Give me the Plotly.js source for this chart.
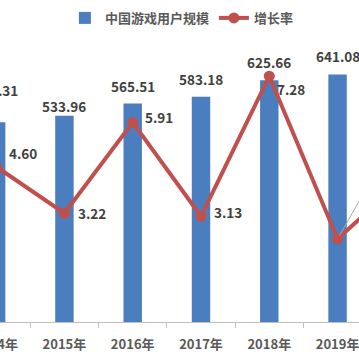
<!DOCTYPE html>
<html><head><meta charset="utf-8">
<script src="https://cdn.plot.ly/plotly-3.0.1.min.js"></script>
<style>
html,body{margin:0;padding:0;background:#fff;width:359px;height:359px;overflow:hidden;position:relative}
#c{position:absolute;left:-38px;top:0;width:478px;height:359px}
</style>
</head><body><div id="c"></div>
<script>
const years = ["2014年","2015年","2016年","2017年","2018年","2019年","2020年"];
const users = [517.31, 533.96, 565.51, 583.18, 625.66, 641.08, 665.07];
const growth = [4.60, 3.22, 5.91, 3.13, 7.28, 2.46, 4.30];
const growthLabels = ["4.60","3.22","5.91","3.13","7.28","2.46","4.30"];
const userLabels = users.map(v => v.toFixed(2));

// label offsets (pixels): styling only
const barLabYShift = [32, 10, 18, 18, 18, 18, 18];
const labXShift = [11, 12, 10, 11, 6, 0, 12];
const labYShift = [14, 0, 5, 4, -13, 0, 0];

const FONT = '"Noto Sans CJK SC", "Noto Sans", sans-serif';
const BLUE = '#4A7EBF';
const RED = '#C0504D';
const LABFONT = {family: FONT, size: 13.5, color: '#404040', weight: 'bold'};

const bar = {
  type: 'bar', name: '中国游戏用户规模', x: years, y: users,
  marker: {color: BLUE}, width: 0.27, hoverinfo: 'skip'
};
const line = {
  type: 'scatter', mode: 'lines+markers', name: '增长率', x: years, y: growth, yaxis: 'y2',
  line: {color: RED, width: 4}, marker: {color: RED, size: 11},
  hoverinfo: 'skip'
};

const barAnnotations = years.map((yr, i) => ({
  x: yr, y: users[i], xref: 'x', yref: 'y', text: userLabels[i],
  showarrow: false, xanchor: 'center', yanchor: 'middle', yshift: barLabYShift[i],
  font: LABFONT
}));

const lineAnnotations = years.map((yr, i) => {
  if (i === 5) {
    return {x: yr, y: growth[i], xref: 'x', yref: 'y2', text: growthLabels[i],
      showarrow: true, arrowhead: 0, arrowwidth: 1, arrowcolor: '#A6A6A6',
      ax: 24, ay: -42, standoff: 4, xanchor: 'left', yanchor: 'middle',
      font: LABFONT};
  }
  return {x: yr, y: growth[i], xref: 'x', yref: 'y2', text: growthLabels[i],
    showarrow: false, xanchor: 'left', yanchor: 'middle',
    xshift: labXShift[i], yshift: labYShift[i], font: LABFONT};
});

const layout = {
  width: 478, height: 359,
  margin: {l: 0, r: 0, t: 13, b: 37, autoexpand: false},
  paper_bgcolor: '#fff', plot_bgcolor: '#fff',
  showlegend: true,
  legend: {orientation: 'h', x: 0.46, xanchor: 'center', y: 0.95, yref: 'container', yanchor: 'middle',
    font: {family: FONT, size: 13, color: '#595959', weight: 'bold'}, itemwidth: 30,
    bgcolor: 'rgba(0,0,0,0)'},
  xaxis: {type: 'category', range: [-0.5, 6.5], showgrid: false, zeroline: false,
    showline: true, linecolor: '#BFBFBF', linewidth: 1,
    ticks: 'outside', tickson: 'boundaries', ticklen: 5, tickcolor: '#BFBFBF',
    ticklabelstandoff: 10,
    tickfont: {family: FONT, size: 13, color: '#595959', weight: 'bold'}},
  yaxis: {range: [0, 800], visible: false, showgrid: false, zeroline: false},
  yaxis2: {range: [0, 9.15], overlaying: 'y', side: 'right', visible: false, showgrid: false, zeroline: false},
  annotations: barAnnotations.concat(lineAnnotations),
  font: {family: FONT}
};

Plotly.newPlot('c', [bar, line], layout, {displayModeBar: false, staticPlot: true});
</script>
</body></html>
